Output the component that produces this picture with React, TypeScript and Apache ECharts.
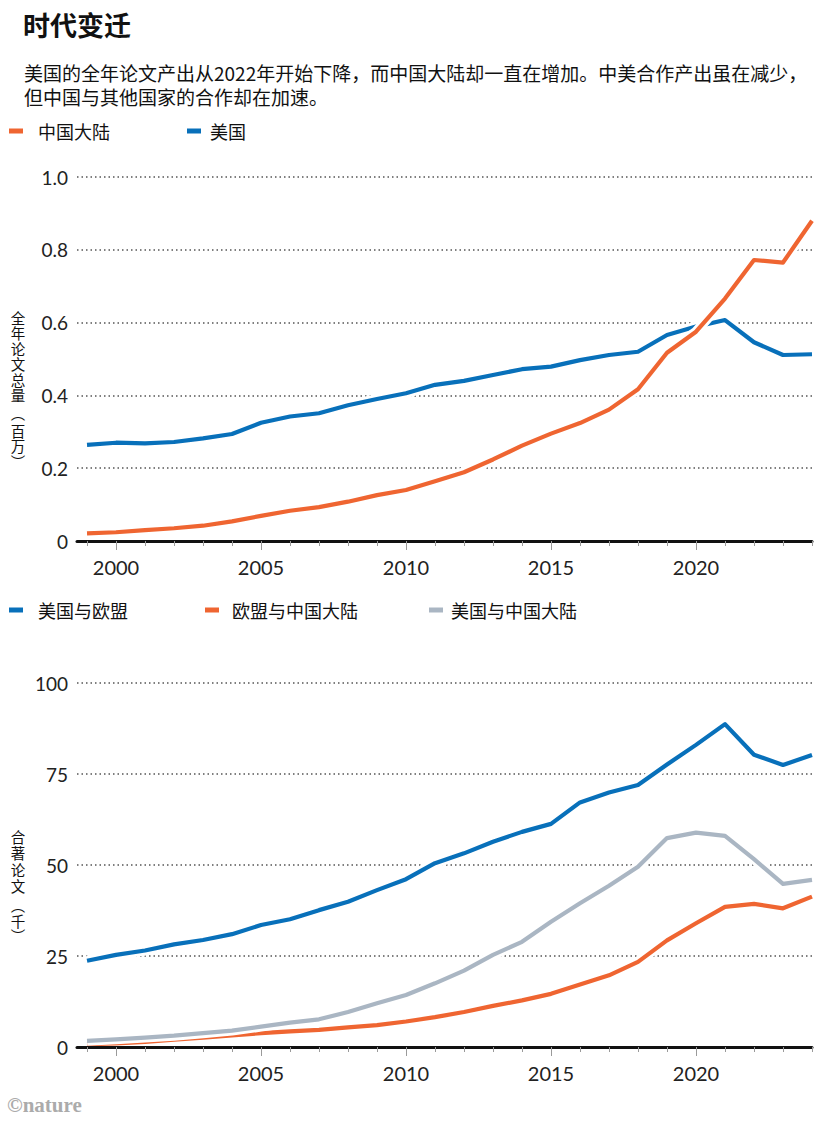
import React, { useEffect, useRef } from 'react';
import * as echarts from 'echarts';

const years = [1999, 2000, 2001, 2002, 2003, 2004, 2005, 2006, 2007, 2008, 2009, 2010, 2011, 2012, 2013, 2014, 2015, 2016, 2017, 2018, 2019, 2020, 2021, 2022, 2023, 2024];
const labelYears = [2000, 2005, 2010, 2015, 2020];

// Top chart: total papers per year (millions)
const chinaTotal = [0.021, 0.024, 0.030, 0.035, 0.042, 0.054, 0.069, 0.083, 0.093, 0.108, 0.126, 0.140, 0.164, 0.189, 0.224, 0.262, 0.295, 0.324, 0.361, 0.417, 0.517, 0.575, 0.666, 0.772, 0.765, 0.880];
const usTotal = [0.264, 0.270, 0.268, 0.272, 0.282, 0.294, 0.325, 0.342, 0.351, 0.373, 0.390, 0.406, 0.429, 0.440, 0.456, 0.472, 0.479, 0.497, 0.511, 0.520, 0.566, 0.589, 0.607, 0.546, 0.511, 0.513];

// Bottom chart: co-authored papers (thousands)
const usEu = [23.7, 25.3, 26.5, 28.2, 29.4, 31.0, 33.5, 35.1, 37.6, 39.9, 43.1, 46.1, 50.5, 53.2, 56.4, 59.1, 61.3, 67.2, 69.9, 72.0, 77.6, 83.0, 88.7, 80.3, 77.5, 80.2];
const euChina = [0.8, 1.0, 1.4, 2.0, 2.6, 3.2, 3.8, 4.3, 4.7, 5.4, 6.0, 7.0, 8.2, 9.6, 11.3, 12.8, 14.6, 17.2, 19.7, 23.4, 29.3, 34.0, 38.5, 39.3, 38.1, 41.3];
const usChina = [1.7, 2.1, 2.6, 3.1, 3.8, 4.5, 5.6, 6.7, 7.6, 9.6, 12.0, 14.3, 17.5, 21.0, 25.3, 28.9, 34.4, 39.5, 44.3, 49.5, 57.4, 58.9, 58.0, 51.6, 44.8, 45.9];

const topYTicks = [0, 0.2, 0.4, 0.6, 0.8, 1.0];
const bottomYTicks = [0, 25, 50, 75, 100];

const topAxisName = ['全', '年', '论', '文', '总', '量', '︵', '百', '万', '︶'];
const bottomAxisName = ['合', '著', '论', '文', '︵', '千', '︶'];

const ORANGE = '#EF6531';
const BLUE = '#0870BA';
const GRAY = '#AAB6C3';

const CJK = '"Noto Sans CJK SC", "Noto Sans", sans-serif';
const NUM = 'Lato, "Noto Sans", sans-serif';

const X_MIN = 1998.655;
const X_MAX = 2024;

function xAxes(gridIndex: number) {
  return [
    {
      type: 'value',
      gridIndex,
      min: X_MIN,
      max: X_MAX,
      position: 'bottom',
      axisLine: { show: true, onZero: false, lineStyle: { color: '#111', width: 3 } },
      axisTick: { show: true, customValues: years, length: 5, lineStyle: { color: '#9a9a9a', width: 1 } },
      axisLabel: {
        show: true,
        customValues: labelYears,
        margin: 16,
        fontSize: 20,
        color: '#222',
        fontFamily: NUM,
        formatter: (v: number) => String(Math.round(v)),
      },
      splitLine: { show: false },
      z: 10,
    },
    {
      type: 'value',
      gridIndex,
      min: X_MIN,
      max: X_MAX,
      position: 'bottom',
      axisLine: { show: false },
      axisTick: { show: true, customValues: labelYears, length: 9, lineStyle: { color: '#9a9a9a', width: 1 } },
      axisLabel: { show: false },
      splitLine: { show: false },
      z: 10,
    },
  ];
}

function yAxis(gridIndex: number, ticks: number[], fmt: (v: number) => string) {
  return {
    type: 'value',
    gridIndex,
    min: ticks[0],
    max: ticks[ticks.length - 1],
    interval: ticks[1] - ticks[0],
    axisLine: { show: false },
    axisTick: { show: false },
    axisLabel: { margin: 9, fontSize: 19, color: '#222', fontFamily: NUM, formatter: fmt },
    splitLine: { show: true, lineStyle: { color: '#555', width: 1.5, type: [1.5, 3] } },
  };
}

function pair(name: string, values: number[], color: string, xAxisIndex: number, yAxisIndex: number, z: number) {
  const data = years.map((y, i) => [y, values[i]]);
  return [
    {
      type: 'line',
      name: name + '_halo',
      xAxisIndex,
      yAxisIndex,
      data,
      symbol: 'none',
      silent: true,
      z,
      lineStyle: { color: '#ffffff', width: 10 },
      itemStyle: { color: '#ffffff' },
    },
    {
      type: 'line',
      name,
      xAxisIndex,
      yAxisIndex,
      data,
      symbol: 'none',
      z: z + 0.5,
      lineStyle: { color, width: 4.2, join: 'round' },
      itemStyle: { color },
    },
  ];
}

function legendItem(name: string, left: number, top: number, pad: number) {
  return {
    data: [name],
    left,
    top,
    icon: 'rect',
    itemWidth: 14,
    itemHeight: 5,
    selectedMode: false,
    padding: 0,
    textStyle: { fontSize: 18, fontFamily: CJK, color: '#111', padding: [0, 0, 0, pad] },
  };
}

function verticalName(chars: string[], centers: number[], x: number) {
  return chars.map((c, i) => ({
    type: 'text',
    x,
    y: centers[i],
    style: {
      text: c,
      fontSize: 14.5,
      lineHeight: 14,
      fontFamily: CJK,
      fill: '#111',
      align: 'center',
      verticalAlign: 'middle',
    },
  }));
}

export default function App() {
  const ref = useRef<HTMLDivElement>(null);

  useEffect(() => {
    if (!ref.current) return;
    const chart = echarts.init(ref.current, null, { renderer: 'svg' });

    const option: any = {
      animation: false,
      backgroundColor: '#ffffff',
      grid: [
        { left: 77, right: 3, top: 177, height: 364 },
        { left: 77, right: 3, top: 683, height: 364 },
      ],
      xAxis: [...xAxes(0), ...xAxes(1)],
      yAxis: [
        yAxis(0, topYTicks, (v: number) => (v === 0 ? '0' : v.toFixed(1))),
        yAxis(1, bottomYTicks, (v: number) => String(v)),
      ],
      legend: [
        legendItem('中国大陆', 9, 122, 10),
        legendItem('美国', 187, 122, 4),
        legendItem('美国与欧盟', 9, 601, 10),
        legendItem('欧盟与中国大陆', 205, 601, 8),
        legendItem('美国与中国大陆', 429, 601, 3),
      ],
      series: [
        ...pair('美国', usTotal, BLUE, 0, 0, 3),
        ...pair('中国大陆', chinaTotal, ORANGE, 0, 0, 4),
        ...pair('美国与欧盟', usEu, BLUE, 2, 1, 3),
        ...pair('欧盟与中国大陆', euChina, ORANGE, 2, 1, 4),
        ...pair('美国与中国大陆', usChina, GRAY, 2, 1, 5),
      ],
      graphic: [
        {
          type: 'text',
          left: 23,
          top: 11,
          style: { text: '时代变迁', fontSize: 27, fontWeight: 'bold', fontFamily: CJK, fill: '#111' },
        },
        {
          type: 'text',
          left: 24,
          top: 60,
          style: {
            text: '美国的全年论文产出从2022年开始下降，而中国大陆却一直在增加。中美合作产出虽在减少，\n但中国与其他国家的合作却在加速。',
            fontSize: 19,
            lineHeight: 24,
            fontFamily: CJK,
            fill: '#111',
          },
        },
        ...verticalName(topAxisName, [317, 332.5, 348, 363.5, 379, 394.5, 412, 430, 445.5, 461], 18),
        ...verticalName(bottomAxisName, [836, 852.5, 869, 885.5, 904, 920, 935], 18),
        {
          type: 'text',
          left: 7,
          top: 1094,
          style: { text: '©nature', fontSize: 21, fontWeight: 'bold', fontFamily: '"Liberation Serif", serif', fill: '#ababab' },
        },
      ],
    };

    chart.setOption(option);
    return () => chart.dispose();
  }, []);

  return (
    <div
      ref={ref}
      style={{ position: 'fixed', left: 0, top: 0, width: 815, height: 1125, background: '#ffffff' }}
    />
  );
}
